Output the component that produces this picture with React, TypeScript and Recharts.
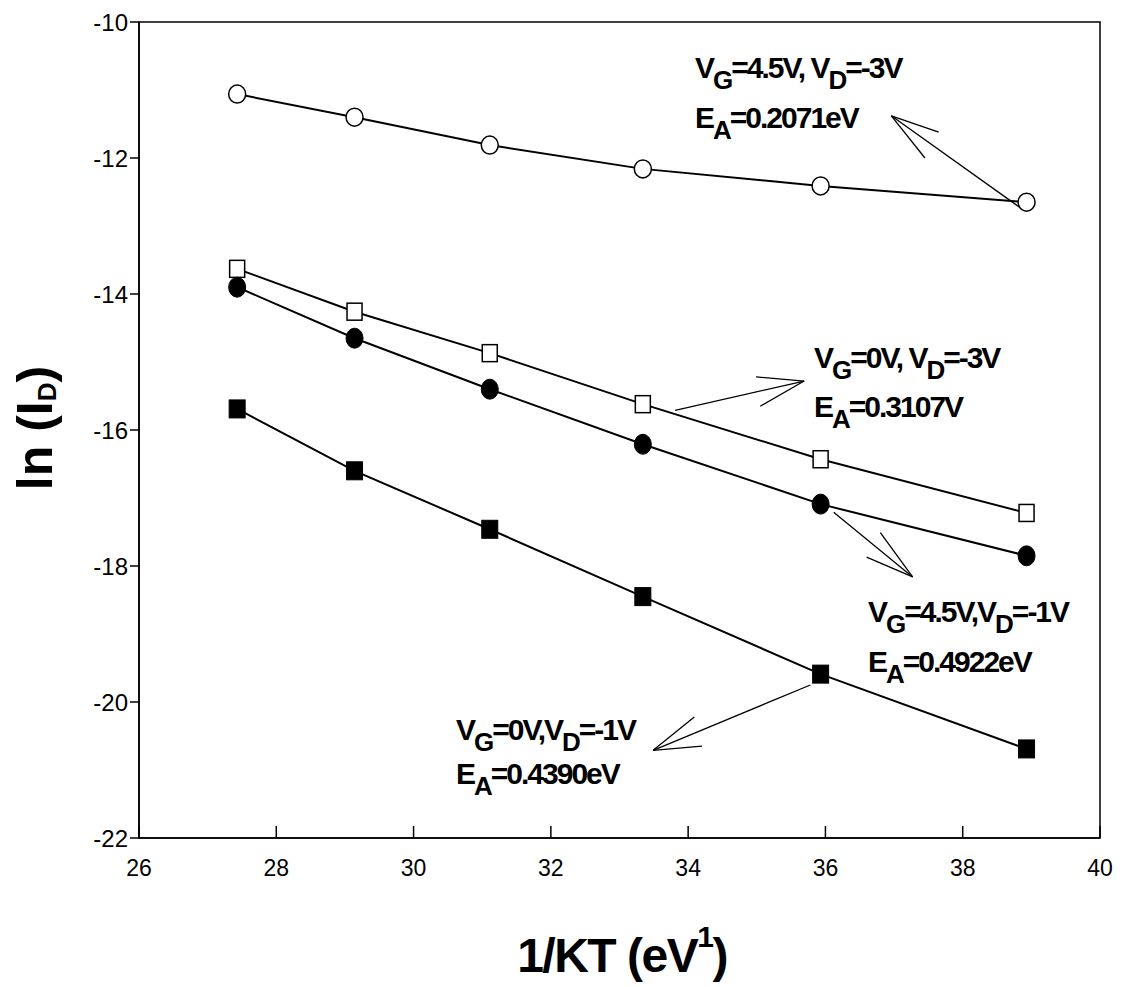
import React from "react";
import {
  LineChart,
  Line,
  XAxis,
  YAxis,
  ReferenceLine,
  ReferenceArea,
} from "recharts";

// 1/kT in eV^-1 (measurement temperatures 423 K ... 298 K)
const invKT = [27.43, 29.14, 31.11, 33.34, 35.93, 38.93];

// ln(I_D) for each bias condition
const vg45Vd3 = [-11.06, -11.4, -11.81, -12.16, -12.41, -12.65]; // open circles
const vg0Vd3 = [-13.63, -14.26, -14.87, -15.62, -16.43, -17.22]; // open squares
const vg45Vd1 = [-13.9, -14.65, -15.4, -16.21, -17.09, -17.85]; // filled circles
const vg0Vd1 = [-15.69, -16.6, -17.46, -18.45, -19.59, -20.69]; // filled squares

const xTicks = [26, 28, 30, 32, 34, 36, 38, 40];
const yTicks = [-22, -20, -18, -16, -14, -12, -10];

// annotation arrows in data units: tail, tip, two head ends
const arrows = [
  [[38.85, -12.74], [36.96, -11.38], [37.65, -11.62], [37.45, -12.0]],
  [[33.81, -15.71], [35.69, -15.28], [34.99, -15.22], [35.05, -15.65]],
  [[36.12, -17.21], [37.27, -18.16], [36.6, -17.87], [36.8, -17.51]],
  [[35.78, -19.75], [33.49, -20.71], [34.09, -20.22], [34.2, -20.65]],
];

const data = invKT.map((x, i) => ({
  x,
  vg45Vd3: vg45Vd3[i],
  vg0Vd3: vg0Vd3[i],
  vg45Vd1: vg45Vd1[i],
  vg0Vd1: vg0Vd1[i],
}));

const OpenCircle = (p: any) => (
  <ellipse key={`oc-${p.index}`} cx={p.cx} cy={p.cy} rx={8.5} ry={9} fill="#fff" stroke="#000" strokeWidth={1.5} />
);
const OpenSquare = (p: any) => (
  <rect key={`os-${p.index}`} x={p.cx - 7.5} y={p.cy - 8.5} width={15} height={17} fill="#fff" stroke="#000" strokeWidth={1.5} />
);
const FilledCircle = (p: any) => (
  <ellipse key={`fc-${p.index}`} cx={p.cx} cy={p.cy} rx={8.5} ry={10} fill="#000" stroke="#000" />
);
const FilledSquare = (p: any) => (
  <rect key={`fs-${p.index}`} x={p.cx - 8} y={p.cy - 9} width={16} height={18} fill="#000" stroke="#000" />
);

const XTick = ({ x, y, payload }: any) => (
  <g>
    <line x1={x} y1={y} x2={x} y2={y - 12} stroke="#000" strokeWidth={1.5} />
    <text x={x} y={y + 38} textAnchor="middle" fontSize={23} fill="#000">
      {payload.value}
    </text>
  </g>
);

// text with subscripts: parts are [text, isSub]
function SubText({ x, y, parts }: { x: number; y: number; parts: [string, boolean][] }) {
  let shift = 0;
  return (
    <text x={x} y={y} fontSize={30} fontWeight="bold" letterSpacing={-2} fill="#000">
      {parts.map(([t, sub], i) => {
        const target = sub ? 11 : 0;
        const dy = target - shift;
        shift = target;
        return (
          <tspan key={i} dy={dy} fontSize={sub ? 26 : 30}>
            {t}
          </tspan>
        );
      })}
    </text>
  );
}

export default function App() {
  return (
    <div
      style={{
        position: "absolute",
        left: 0,
        top: 0,
        width: 1125,
        height: 987,
        background: "#fff",
        fontFamily: "'Liberation Sans', Arial, sans-serif",
      }}
    >
      <LineChart
        width={1125}
        height={987}
        data={data}
        margin={{ top: 22, right: 25, bottom: 89, left: 0 }}
      >
        <XAxis
          dataKey="x"
          type="number"
          domain={[26, 40]}
          ticks={xTicks}
          interval={0}
          height={60}
          tickSize={0}
          tickMargin={0}
          tickLine={false}
          axisLine={{ stroke: "#000", strokeWidth: 1.5 }}
          tick={<XTick />}
        />
        <YAxis
          type="number"
          domain={[-22, -10]}
          ticks={yTicks}
          interval={0}
          width={139}
          tickSize={9}
          tickMargin={2}
          axisLine={{ stroke: "#000", strokeWidth: 1.5 }}
          tickLine={{ stroke: "#000", strokeWidth: 1.5 }}
          tick={{ fill: "#000", fontSize: 24 }}
        />
        <ReferenceArea
          x1={26}
          x2={40}
          y1={-22}
          y2={-10}
          fill="none"
          fillOpacity={0}
          stroke="#000"
          strokeWidth={1.5}
        />
        {arrows.map((a, i) => (
          <React.Fragment key={`arrow-${i}`}>
            <ReferenceLine
              segment={[{ x: a[0][0], y: a[0][1] }, { x: a[1][0], y: a[1][1] }]}
              stroke="#000"
              strokeWidth={1.3}
            />
            <ReferenceLine
              segment={[{ x: a[1][0], y: a[1][1] }, { x: a[2][0], y: a[2][1] }]}
              stroke="#000"
              strokeWidth={1.3}
            />
            <ReferenceLine
              segment={[{ x: a[1][0], y: a[1][1] }, { x: a[3][0], y: a[3][1] }]}
              stroke="#000"
              strokeWidth={1.3}
            />
          </React.Fragment>
        ))}
        <Line dataKey="vg45Vd3" stroke="#000" strokeWidth={2} dot={OpenCircle} activeDot={false} isAnimationActive={false} />
        <Line dataKey="vg0Vd3" stroke="#000" strokeWidth={2} dot={OpenSquare} activeDot={false} isAnimationActive={false} />
        <Line dataKey="vg45Vd1" stroke="#000" strokeWidth={2} dot={FilledCircle} activeDot={false} isAnimationActive={false} />
        <Line dataKey="vg0Vd1" stroke="#000" strokeWidth={2} dot={FilledSquare} activeDot={false} isAnimationActive={false} />
      </LineChart>
      <svg
        width={1125}
        height={987}
        style={{ position: "absolute", left: 0, top: 0, pointerEvents: "none" }}
      >
        <SubText x={695} y={78} parts={[["V", false], ["G", true], ["=4.5V, V", false], ["D", true], ["=-3V", false]]} />
        <SubText x={695} y={128} parts={[["E", false], ["A", true], ["=0.2071eV", false]]} />
        <SubText x={814} y={368} parts={[["V", false], ["G", true], ["=0V, V", false], ["D", true], ["=-3V", false]]} />
        <SubText x={814} y={417} parts={[["E", false], ["A", true], ["=0.3107V", false]]} />
        <SubText x={868} y={622} parts={[["V", false], ["G", true], ["=4.5V,V", false], ["D", true], ["=-1V", false]]} />
        <SubText x={868} y={672} parts={[["E", false], ["A", true], ["=0.4922eV", false]]} />
        <SubText x={456} y={740} parts={[["V", false], ["G", true], ["=0V,V", false], ["D", true], ["=-1V", false]]} />
        <SubText x={456} y={784} parts={[["E", false], ["A", true], ["=0.4390eV", false]]} />
        <text
          transform="translate(52,428) rotate(-90)"
          textAnchor="middle"
          fontSize={50}
          fontWeight="bold"
          fill="#000"
        >
          ln (I
          <tspan fontSize={26} dy={4}>D</tspan>
          <tspan dy={-4}>)</tspan>
        </text>
        <text x={622} y={972} textAnchor="middle" fontSize={48} fontWeight="bold" letterSpacing={-1.5} fill="#000">
          1/KT (eV
          <tspan fontSize={30} dy={-25}>1</tspan>
          <tspan dy={25}>)</tspan>
        </text>
      </svg>
    </div>
  );
}
